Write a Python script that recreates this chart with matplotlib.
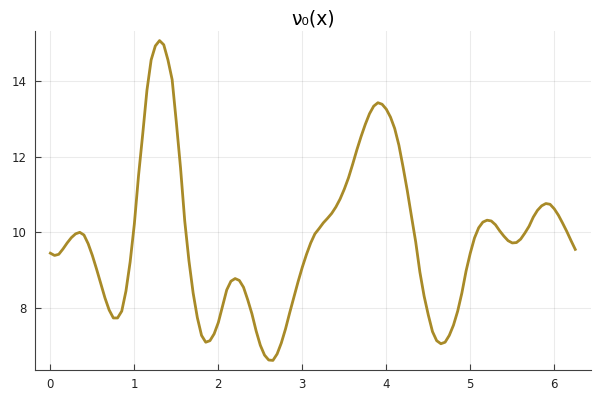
import numpy as np
import matplotlib
matplotlib.use("Agg")
import matplotlib.pyplot as plt

# samples of nu0(x) at step 0.05 from 0 to 6.25
x = np.arange(126) * 0.05
nu0 = [
    9.45, 9.39, 9.42, 9.56, 9.72, 9.86, 9.96, 10.00, 9.93, 9.70,
    9.39, 9.03, 8.65, 8.27, 7.95, 7.74, 7.74, 7.92, 8.45, 9.22,
    10.22, 11.50, 12.60, 13.75, 14.55, 14.92, 15.06, 14.95, 14.55, 14.03,
    12.90, 11.70, 10.30, 9.25, 8.40, 7.75, 7.28, 7.10, 7.14, 7.32,
    7.62, 8.05, 8.48, 8.71, 8.78, 8.73, 8.55, 8.22, 7.85, 7.40,
    7.02, 6.76, 6.63, 6.62, 6.79, 7.08, 7.45, 7.88, 8.29, 8.70,
    9.08, 9.42, 9.72, 9.96, 10.10, 10.25, 10.37, 10.50, 10.67, 10.88,
    11.14, 11.44, 11.80, 12.18, 12.53, 12.85, 13.13, 13.33, 13.42, 13.38,
    13.25, 13.04, 12.74, 12.30, 11.72, 11.10, 10.42, 9.75, 8.95, 8.32,
    7.82, 7.38, 7.14, 7.06, 7.10, 7.28, 7.55, 7.92, 8.40, 8.98,
    9.45, 9.85, 10.12, 10.27, 10.32, 10.30, 10.20, 10.04, 9.90, 9.78,
    9.72, 9.73, 9.82, 9.98, 10.16, 10.40, 10.58, 10.70, 10.76, 10.74,
    10.62, 10.45, 10.24, 10.02, 9.78, 9.55,
]
xticks = [0, 1, 2, 3, 4, 5, 6]
yticks = [8, 10, 12, 14]
title = "ν₀(x)"

fig = plt.figure(figsize=(6, 4), dpi=100)
ax = fig.add_axes([0.0577, 0.075, 0.9273, 0.8475])

ax.plot(x, nu0, color="#a88a28", lw=2)

# Plots.jl-like 3% padding on both axes
xr = x[-1] - x[0]
ax.set_xlim(x[0] - 0.03 * xr, x[-1] + 0.03 * xr)
yr = max(nu0) - min(nu0)
ax.set_ylim(min(nu0) - 0.03 * yr, max(nu0) + 0.03 * yr)

ax.set_xticks(xticks)
ax.set_yticks(yticks)
ax.grid(True, color="black", alpha=0.08, lw=0.8)
for s in ["top", "right"]:
    ax.spines[s].set_visible(False)
for s in ["left", "bottom"]:
    ax.spines[s].set_color("#404040")
ax.tick_params(direction="in", length=4, color="#404040", labelsize=8.5,
               labelcolor="#222222", pad=6)

ax.set_title(title, fontsize=13.5, pad=5)

fig.savefig("out.png", dpi=100)
